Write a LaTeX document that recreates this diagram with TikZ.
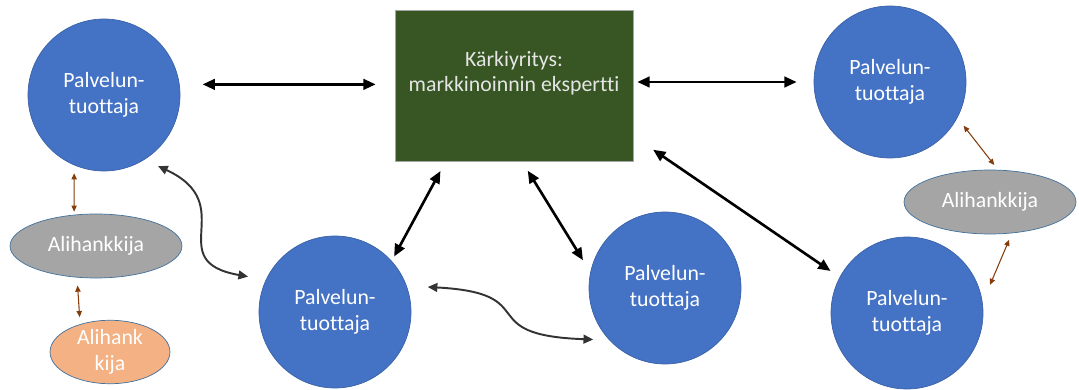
\documentclass[tikz,border=0pt]{standalone}
\usepackage{fontspec}
\setmainfont{Carlito}[Ligatures=NoCommon]
\usetikzlibrary{arrows.meta,shapes.geometric}
\definecolor{tuottajablue}{HTML}{4472C4}
\definecolor{karkigreen}{HTML}{375623}
\definecolor{aligray}{HTML}{A5A5A5}
\definecolor{aliorange}{HTML}{F4B183}
\definecolor{edgeblue}{HTML}{41719C}
\definecolor{linkbrown}{HTML}{843C0C}
\tikzset{
  tuottaja/.style={circle,fill=tuottajablue,draw=tuottajablue!85!black,line width=0.4pt,
    minimum size=3.04cm,inner sep=0pt,text=white,align=center,
    font=\fontsize{12.4}{14.8}\selectfont},
  karki/.style={rectangle,fill=karkigreen,draw=gray!70,line width=0.4pt,
    minimum width=4.76cm,minimum height=3.02cm,inner sep=0pt},
  karkitext/.style={text=white!90!black,align=center,font=\fontsize{12.4}{14.2}\selectfont},
  alihank/.style={ellipse,fill=aligray,draw=edgeblue,line width=0.4pt,
    minimum width=3.44cm,minimum height=1.28cm,inner sep=0pt,text=white,align=center,
    font=\fontsize{12.4}{14.8}\selectfont},
  alihanksmall/.style={alihank,fill=aliorange,minimum width=2.4cm,minimum height=1.2cm},
  mainlink/.style={{Triangle[length=7pt,width=6pt]}-{Triangle[length=7pt,width=6pt]},
    line width=1.5pt,black},
  wavelink/.style={{Triangle[length=5.5pt,width=5pt]}-{Triangle[length=5.5pt,width=5pt]},
    line width=1.1pt,black!80},
  sublink/.style={{Triangle[length=3.5pt,width=3pt]}-{Triangle[length=3.5pt,width=3pt]},
    line width=0.6pt,linkbrown}
}
\begin{document}
\begin{tikzpicture}[x=0.02cm,y=0.02cm]
\useasboundingbox (0,0) rectangle (1079,389);
\node[karki,label={[karkitext,yshift=7pt]center:Kärkiyritys:\\markkinoinnin ekspertti}] (karki) at (514,303.5) {};
\node[tuottaja] (c1) at (104,294) {Palvelun-\\tuottaja};
\node[tuottaja] (c2) at (335,77) {Palvelun-\\tuottaja};
\node[tuottaja] (c3) at (665,101) {Palvelun-\\tuottaja};
\node[tuottaja] (c4) at (890,307) {Palvelun-\\tuottaja};
\node[tuottaja] (c5) at (907,76) {Palvelun-\\tuottaja};
\node[alihank] (e1) at (96,143) {Alihankkija};
\node[alihanksmall] (e2) at (110,37) {Alihank\\kija};
\node[alihank] (e3) at (990,187) {Alihankkija};
% yhteydet karkiyritykseen
\draw[mainlink,shorten <=0.46cm,shorten >=0.38cm] (c1.8) -- (karki.west |- c1.8);
\draw[mainlink,shorten <=0.08cm,shorten >=0.34cm] (karki.east |- c4.west) -- (c4.west);
\draw[mainlink,shorten <=0.22cm,shorten >=0.1cm] (karki.228) -- (c2.42);
\draw[mainlink,shorten <=0.22cm,shorten >=0.28cm] (karki.276) -- (c3.168);
\draw[mainlink,shorten <=0.48cm,shorten >=0.22cm] (karki.337) -- (c5.152);
% tuottajien valiset
\draw[wavelink,shorten <=0.3cm,shorten >=0.36cm] (c1.302) to[out=-25,in=170,looseness=1.6] (c2.155);
\draw[wavelink,shorten <=0.42cm,shorten >=0.32cm] (c2.20) to[out=-3,in=178,looseness=1.7] (c3.223);
% alihankkijat
\draw[sublink,shorten <=0.16cm,shorten >=0.06cm] (c1.247) -- (e1.125);
\draw[sublink,shorten <=0.16cm,shorten >=0.14cm] (e1.239) -- (e2.137);
\draw[sublink,shorten <=0.2cm,shorten >=0.12cm] (c4.332) -- (e3.76);
\draw[sublink,shorten <=0.14cm,shorten >=0.38cm] (e3.305) -- (c5.8);
\end{tikzpicture}
\end{document}
